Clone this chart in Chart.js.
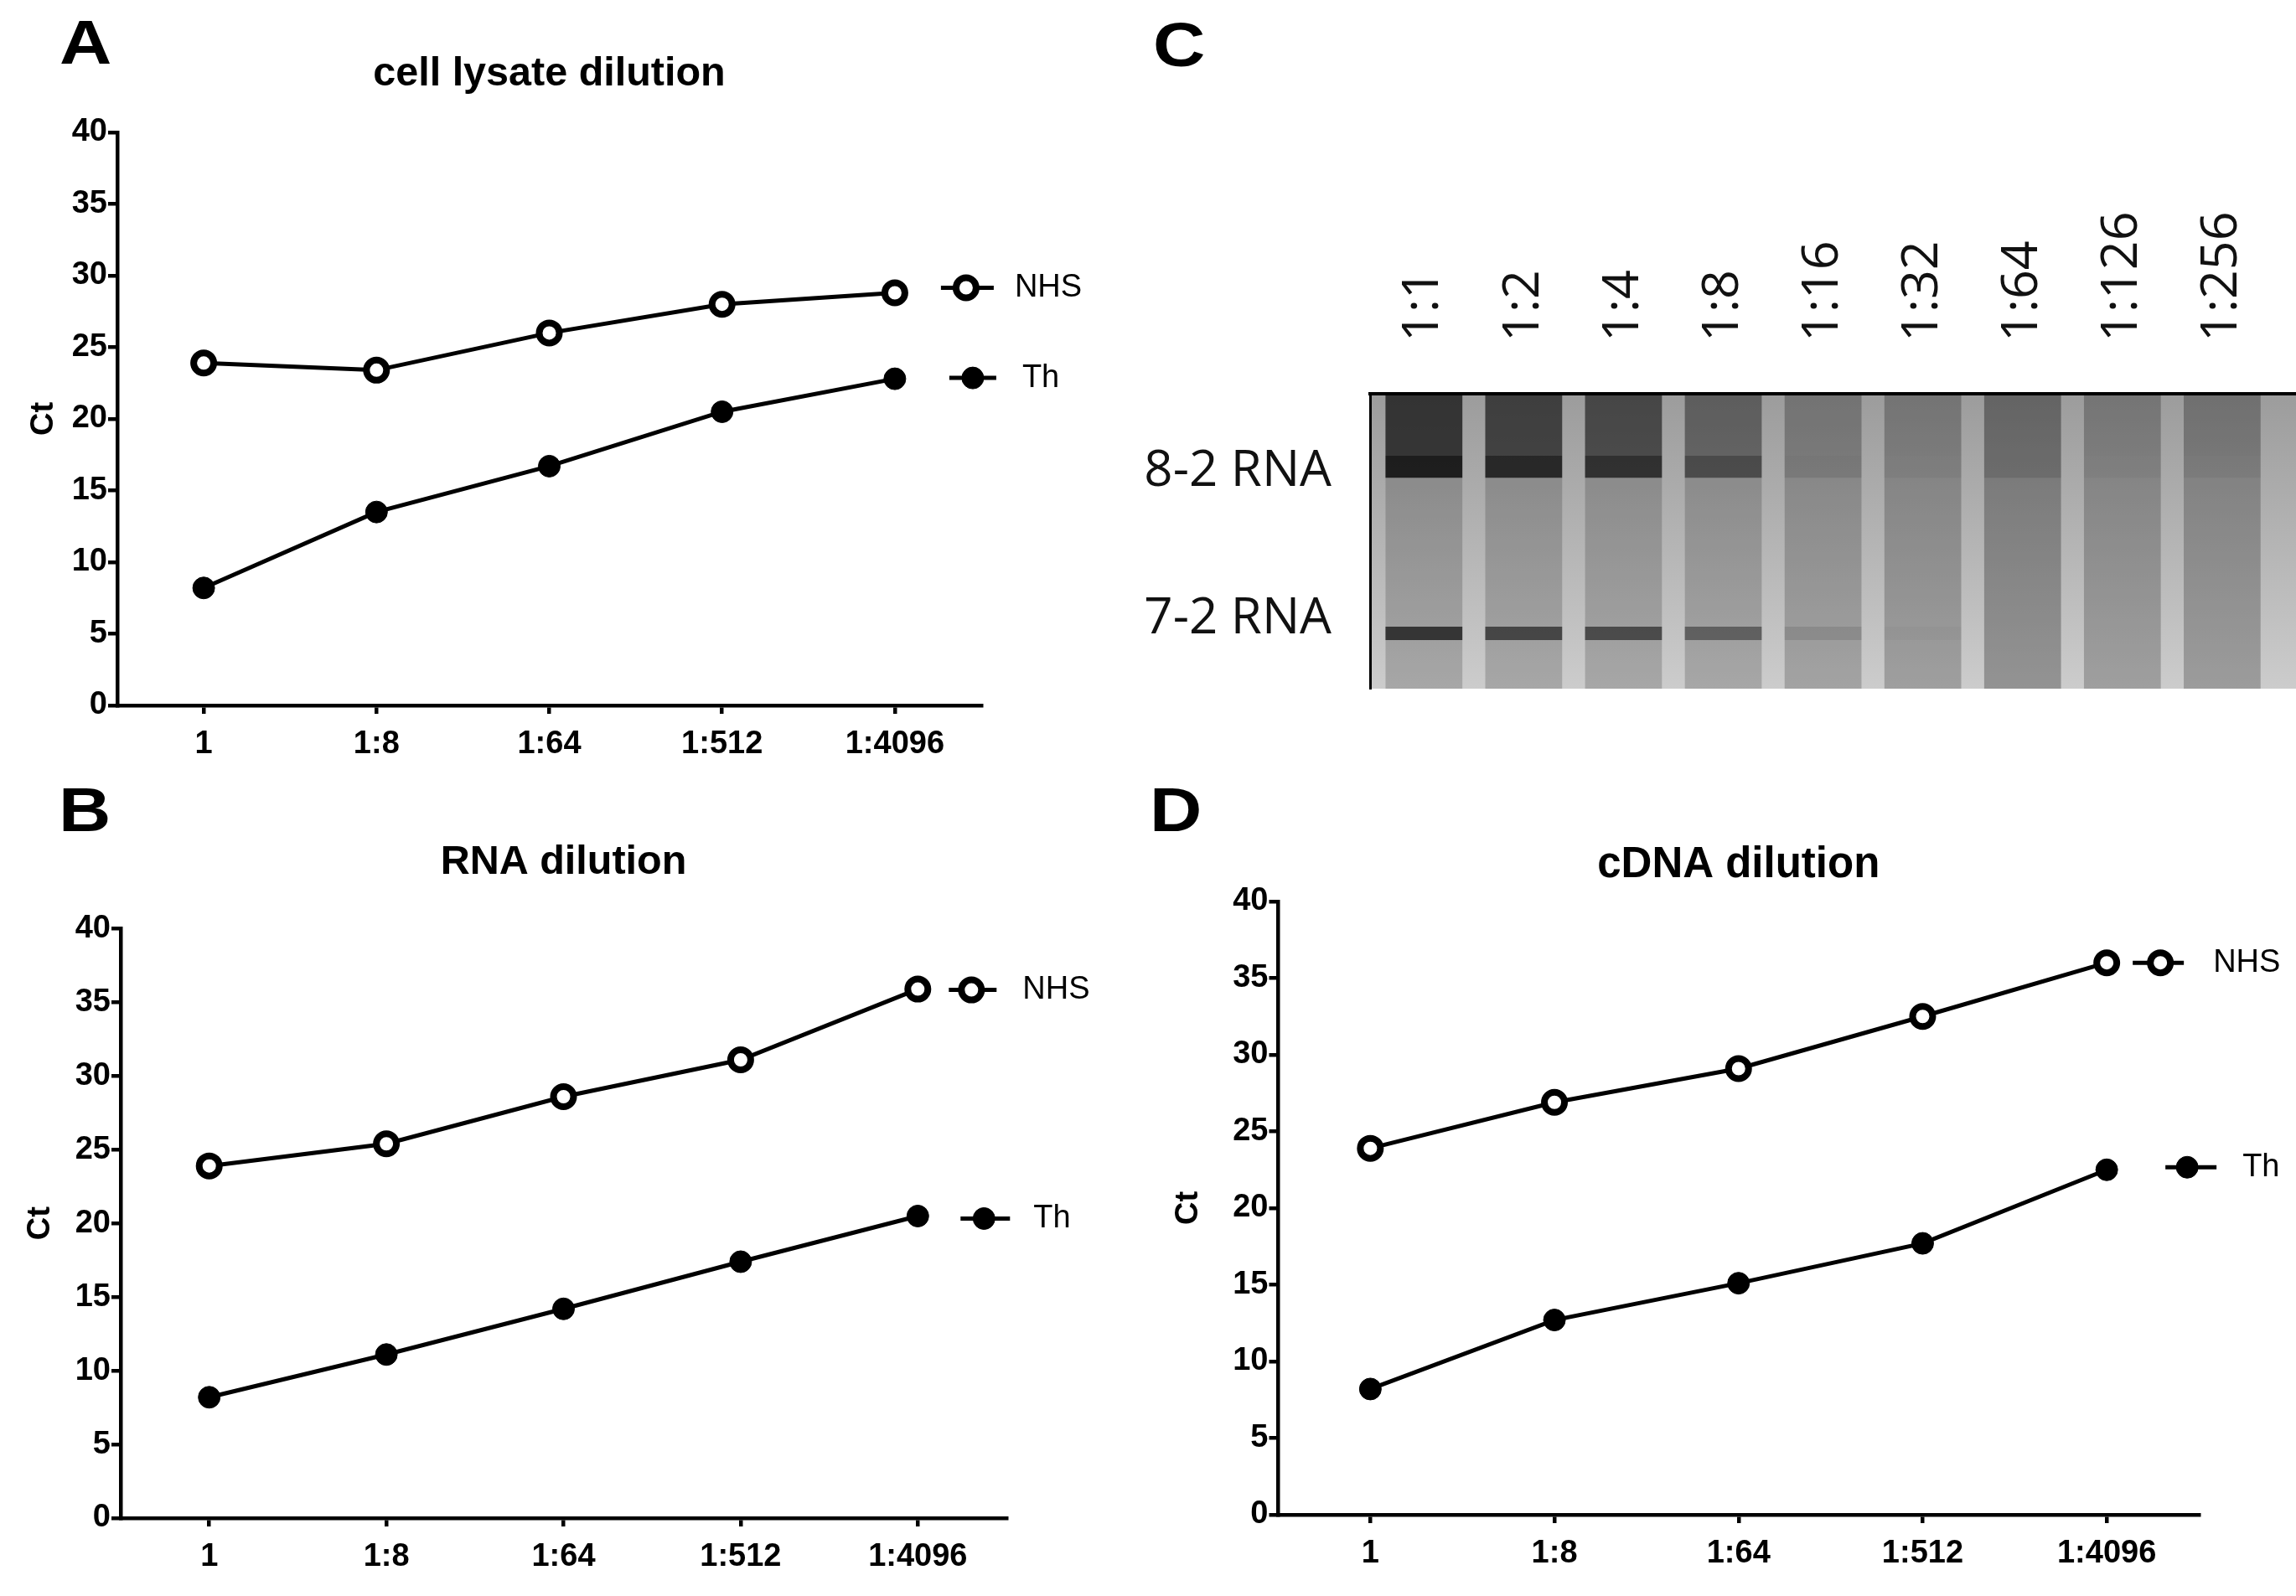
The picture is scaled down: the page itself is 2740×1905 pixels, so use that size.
<!DOCTYPE html>
<html>
<head>
<meta charset="utf-8">
<title>Ct dilution series</title>
<script src="https://cdn.jsdelivr.net/npm/chart.js@4.4.1/dist/chart.umd.min.js"></script>
<style>
  html, body { margin: 0; padding: 0; background: #fff; }
  #page { position: relative; width: 2740px; height: 1905px; overflow: hidden; background: #fff; }
  canvas { position: absolute; }
  .panel { position: absolute; font: bold 75px "Liberation Sans", Arial, sans-serif; line-height: 1; color: #000;
           transform: scaleX(1.15); transform-origin: left top; }
</style>
</head>
<body>
<div id="page">
  <canvas id="chartA" width="1370" height="930" style="left:0;top:0"></canvas>
  <canvas id="chartB" width="1370" height="975" style="left:0;top:930px"></canvas>
  <canvas id="chartD" width="1370" height="975" style="left:1370px;top:930px"></canvas>
  <canvas id="chartC" width="1440" height="752" style="left:1300px;top:150px"></canvas>
  <div class="panel" style="left:71px;top:13px">A</div>
  <div class="panel" style="left:70px;top:929px">B</div>
  <div class="panel" style="left:1376px;top:16px">C</div>
  <div class="panel" style="left:1372px;top:929px">D</div>
</div>
<script>
// Ct-Werte der drei Verduennungsreihen (A, B, D) und das Gel (C).
const dilutions = ['1', '1:8', '1:64', '1:512', '1:4096'];

const lysateNHS = [23.9, 23.4, 26.0, 28.0, 28.8];
const lysateTh  = [8.2, 13.5, 16.7, 20.5, 22.8];

const rnaNHS = [23.9, 25.4, 28.6, 31.1, 35.9];
const rnaTh  = [8.2, 11.1, 14.2, 17.4, 20.5];

const cdnaNHS = [23.9, 26.9, 29.1, 32.5, 36.0];
const cdnaTh  = [8.2, 12.7, 15.1, 17.7, 22.5];

// Gel: Spuren, Bandenlage (0 = Unterkante, 100 = Oberkante) und geschaetzte Schwaerzung 0..1
const lanes = ['1:1', '1:2', '1:4', '1:8', '1:16', '1:32', '1:64', '1:126', '1:256'];
const laneShade = [0.2, 0.2, 0.2, 0.2, 0.22, 0.24, 0.3, 0.24, 0.26];
const smear82   = [0.7, 0.6, 0.52, 0.32, 0.1, 0.06, 0.14, 0.05, 0.08];
const band82    = [0.9, 0.82, 0.74, 0.52, 0.12, 0.05, 0.14, 0.04, 0.06];
const band72    = [0.75, 0.64, 0.6, 0.45, 0.12, 0.03, 0, 0, 0];
const rnaMarkers   = ['8-2 RNA', '7-2 RNA'];
const rnaMarkerPos = [73.6, 23.5];
const smear82Range = [79, 100];
const band82Range  = [71.5, 79];
const band72Range  = [16.5, 21];

Chart.defaults.font.family = '"Liberation Sans", Arial, sans-serif';
Chart.defaults.color = '#000';

// Beschriftung "-o- NHS" neben dem letzten Punkt jeder Reihe
const seriesLabels = {
  id: 'seriesLabels',
  afterDatasetsDraw(chart, args, opts) {
    const { ctx } = chart;
    const xs = chart.scales.x;
    const ys = chart.scales.y;
    chart.data.datasets.forEach((ds, i) => {
      const o = opts.offsets[i];
      const last = ds.data.length - 1;
      const px = xs.getPixelForValue(last) + o.dx;
      const py = ys.getPixelForValue(ds.data[last]) + o.dy;
      ctx.save();
      ctx.strokeStyle = '#000';
      ctx.lineWidth = ds.borderWidth;
      ctx.beginPath();
      ctx.moveTo(px - o.l, py);
      ctx.lineTo(px + o.r, py);
      ctx.stroke();
      ctx.beginPath();
      ctx.arc(px, py, ds.pointRadius, 0, Math.PI * 2);
      ctx.fillStyle = ds.pointBackgroundColor;
      ctx.fill();
      ctx.lineWidth = ds.pointBorderWidth;
      ctx.stroke();
      ctx.fillStyle = '#000';
      ctx.font = '38px "Liberation Sans", Arial, sans-serif';
      ctx.textBaseline = 'middle';
      ctx.textAlign = 'left';
      ctx.fillText(ds.label, px + o.tx, py);
      ctx.restore();
    });
  },
};

function ctChart(id, title, nhs, th, geo) {
  return new Chart(document.getElementById(id), {
    type: 'line',
    data: {
      labels: dilutions,
      datasets: [
        {
          label: 'NHS', data: nhs, borderColor: '#000', borderWidth: 5, tension: 0,
          pointRadius: 12, pointBorderWidth: 8, pointBackgroundColor: '#fff', pointBorderColor: '#000',
        },
        {
          label: 'Th', data: th, borderColor: '#000', borderWidth: 5, tension: 0,
          pointRadius: 13, pointBorderWidth: 1, pointBackgroundColor: '#000', pointBorderColor: '#000',
        },
      ],
    },
    options: {
      responsive: false,
      animation: false,
      devicePixelRatio: 1,
      events: [],
      layout: { padding: { top: geo.padTop, right: geo.padRight, bottom: 0, left: 0 } },
      scales: {
        x: {
          type: 'category',
          offset: true,
          grid: { drawOnChartArea: false, offset: false, color: '#000', lineWidth: 4.5, tickLength: 10 },
          border: { color: '#000', width: 4.5 },
          ticks: { font: { size: 38, weight: 'bold' }, color: '#000', padding: 14, autoSkip: false, maxRotation: 0 },
          afterFit: (s) => { s.height = geo.xHeight; },
        },
        y: {
          min: 0,
          max: 40,
          grid: { drawOnChartArea: false, color: '#000', lineWidth: 4.5, tickLength: 11 },
          border: { color: '#000', width: 4.5 },
          ticks: { stepSize: 5, font: { size: 38, weight: 'bold' }, color: '#000', padding: 1 },
          title: { display: true, text: 'Ct', font: { size: 38, weight: 'bold' }, color: '#000', padding: { top: geo.ctPad, bottom: 0 } },
          afterFit: (s) => { s.width = geo.yWidth; },
        },
      },
      plugins: {
        legend: { display: false },
        tooltip: { enabled: false },
        title: {
          display: true, text: title, fullSize: false, color: '#000',
          font: { size: geo.titleSize, weight: 'bold' },
          padding: { top: 0, bottom: geo.titlePad },
        },
        seriesLabels: { offsets: geo.labels },
      },
    },
    plugins: [seriesLabels],
  });
}

ctChart('chartA', 'cell lysate dilution', lysateNHS, lysateTh, {
  titleSize: 48.5, padTop: 59.9, titlePad: 39.9, padRight: 199, yWidth: 140, xHeight: 88, ctPad: 30,
  labels: [{ dx: 85, dy: -6, l: 30, r: 33, tx: 58 }, { dx: 93, dy: -1, l: 28, r: 28, tx: 59 }],
});
ctChart('chartB', 'RNA dilution', rnaNHS, rnaTh, {
  titleSize: 48.5, padTop: 70.4, titlePad: 49.9, padRight: 169, yWidth: 144, xHeight: 93, ctPad: 26,
  labels: [{ dx: 64, dy: 1, l: 27, r: 30, tx: 61 }, { dx: 79, dy: 3, l: 28, r: 31, tx: 59 }],
});
ctChart('chartD', 'cDNA dilution', cdnaNHS, cdnaTh, {
  titleSize: 51, padTop: 72.4, titlePad: 12.4, padRight: 116, yWidth: 155.5, xHeight: 97, ctPad: 26,
  labels: [{ dx: 64, dy: 0, l: 33, r: 28, tx: 63 }, { dx: 96, dy: -3, l: 26, r: 35, tx: 66 }],
});

// Gel (C): Hintergrund-Verlauf, Spuren und Banden als schwebende Balken
const gelBackground = {
  id: 'gelBackground',
  beforeDraw(chart) {
    const { ctx, chartArea: a } = chart;
    const g = ctx.createLinearGradient(0, a.top, 0, a.bottom);
    g.addColorStop(0, '#9c9c9c');
    g.addColorStop(1, '#cccccc');
    ctx.save();
    ctx.fillStyle = g;
    ctx.fillRect(a.left, a.top, a.right - a.left, a.bottom - a.top);
    ctx.restore();
  },
};

function laneSet(label, range, alpha, order) {
  return {
    label,
    order,
    grouped: false,
    data: lanes.map((_, i) => ({ x: i, y: range })),
    backgroundColor: alpha.map((a) => `rgba(18,18,18,${a})`),
    barPercentage: 0.77,
    categoryPercentage: 1,
    borderWidth: 0,
    borderSkipped: false,
  };
}

new Chart(document.getElementById('chartC'), {
  type: 'bar',
  data: {
    datasets: [
      laneSet('8-2 RNA', band82Range, band82, 1),
      laneSet('7-2 RNA', band72Range, band72, 1),
      laneSet('smear', smear82Range, smear82, 2),
      laneSet('lane', [0, 100], laneShade, 3),
    ],
  },
  options: {
    responsive: false,
    animation: false,
    devicePixelRatio: 1,
    events: [],
    layout: { padding: { top: 0, right: 0, bottom: 80, left: 0 } },
    scales: {
      x: {
        type: 'linear',
        position: 'top',
        min: -0.54,
        max: 8.74,
        offset: false,
        afterBuildTicks: (s) => { s.ticks = lanes.map((_, i) => ({ value: i })); },
        ticks: {
          callback: (v) => lanes[v],
          minRotation: 90, maxRotation: 90, autoSkip: false, padding: 54, labelOffset: 73,
          font: { family: '"Open Sans", sans-serif', size: 61 }, color: '#111',
        },
        grid: { display: false },
        border: { display: true, color: '#000', width: 4, z: 1 },
        afterFit: (s) => { s.height = 320; },
      },
      y: {
        type: 'linear',
        min: 0,
        max: 100,
        afterBuildTicks: (s) => { s.ticks = rnaMarkerPos.map((v) => ({ value: v })); },
        ticks: {
          callback: (v, i) => rnaMarkers[i],
          padding: 38,
          font: { family: '"Open Sans", sans-serif', size: 60 }, color: '#111',
        },
        grid: { display: false },
        border: { display: true, color: '#000', width: 3, z: 1 },
        afterFit: (s) => { s.width = 335; },
      },
    },
    plugins: {
      legend: { display: false },
      tooltip: { enabled: false },
      title: { display: false },
    },
  },
  plugins: [gelBackground],
});
</script>
</body>
</html>
